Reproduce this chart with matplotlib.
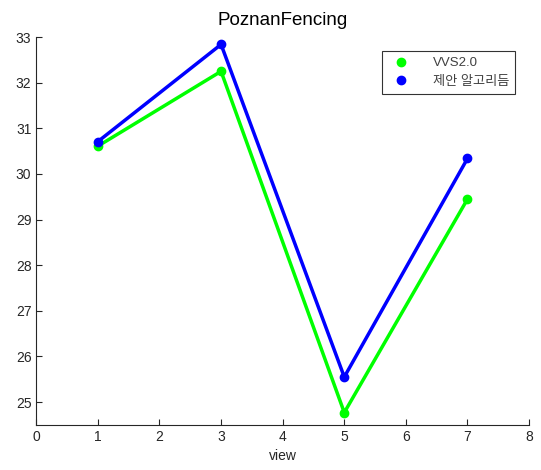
import numpy as np
import matplotlib.pyplot as plt
from matplotlib.lines import Line2D

plt.rcParams['font.family'] = ['Liberation Sans', 'Noto Sans CJK KR', 'DejaVu Sans']

views = [1, 3, 5, 7]
vvs = [30.61, 32.25, 24.77, 29.45]
proposed = [30.71, 32.84, 25.55, 30.34]
labels = ['VVS2.0', '제안 알고리듬']

txt = '#262626'
fig = plt.figure(figsize=(5.41, 4.70), dpi=100)
ax = fig.add_axes([0.067, 0.096, 0.911, 0.825])

ax.plot(views, vvs, '-o', color='#00ff00', lw=2.5, ms=6)
ax.plot(views, proposed, '-o', color='#0000ff', lw=2.5, ms=6)

ax.set_xlim(0, 8)
ax.set_ylim(24.5, 33)
ax.set_xticks(range(0, 9))
ax.set_yticks(range(25, 34))
for s in ['top', 'right']:
    ax.spines[s].set_visible(False)
for s in ['left', 'bottom']:
    ax.spines[s].set_color(txt)
    ax.spines[s].set_linewidth(0.8)
ax.tick_params(direction='in', length=4, colors=txt, labelsize=10, width=0.8)
ax.set_xlabel('view', fontsize=10, color=txt, labelpad=4)
ax.set_title('PoznanFencing', fontsize=13.5, color='black', pad=9)

handles = [Line2D([], [], ls='none', marker='o', color='#00ff00', ms=6),
           Line2D([], [], ls='none', marker='o', color='#0000ff', ms=6)]
leg = ax.legend(handles, labels, loc='upper right', bbox_to_anchor=(0.972, 0.964),
                fontsize=9.5, frameon=True, fancybox=False, edgecolor='black',
                handletextpad=1.4, borderpad=0.45, labelspacing=0.5, handlelength=2.0,
                borderaxespad=0.0)
leg.get_frame().set_linewidth(0.8)
for t in leg.get_texts():
    t.set_color('#404040')

fig.savefig('out.png', dpi=100)
